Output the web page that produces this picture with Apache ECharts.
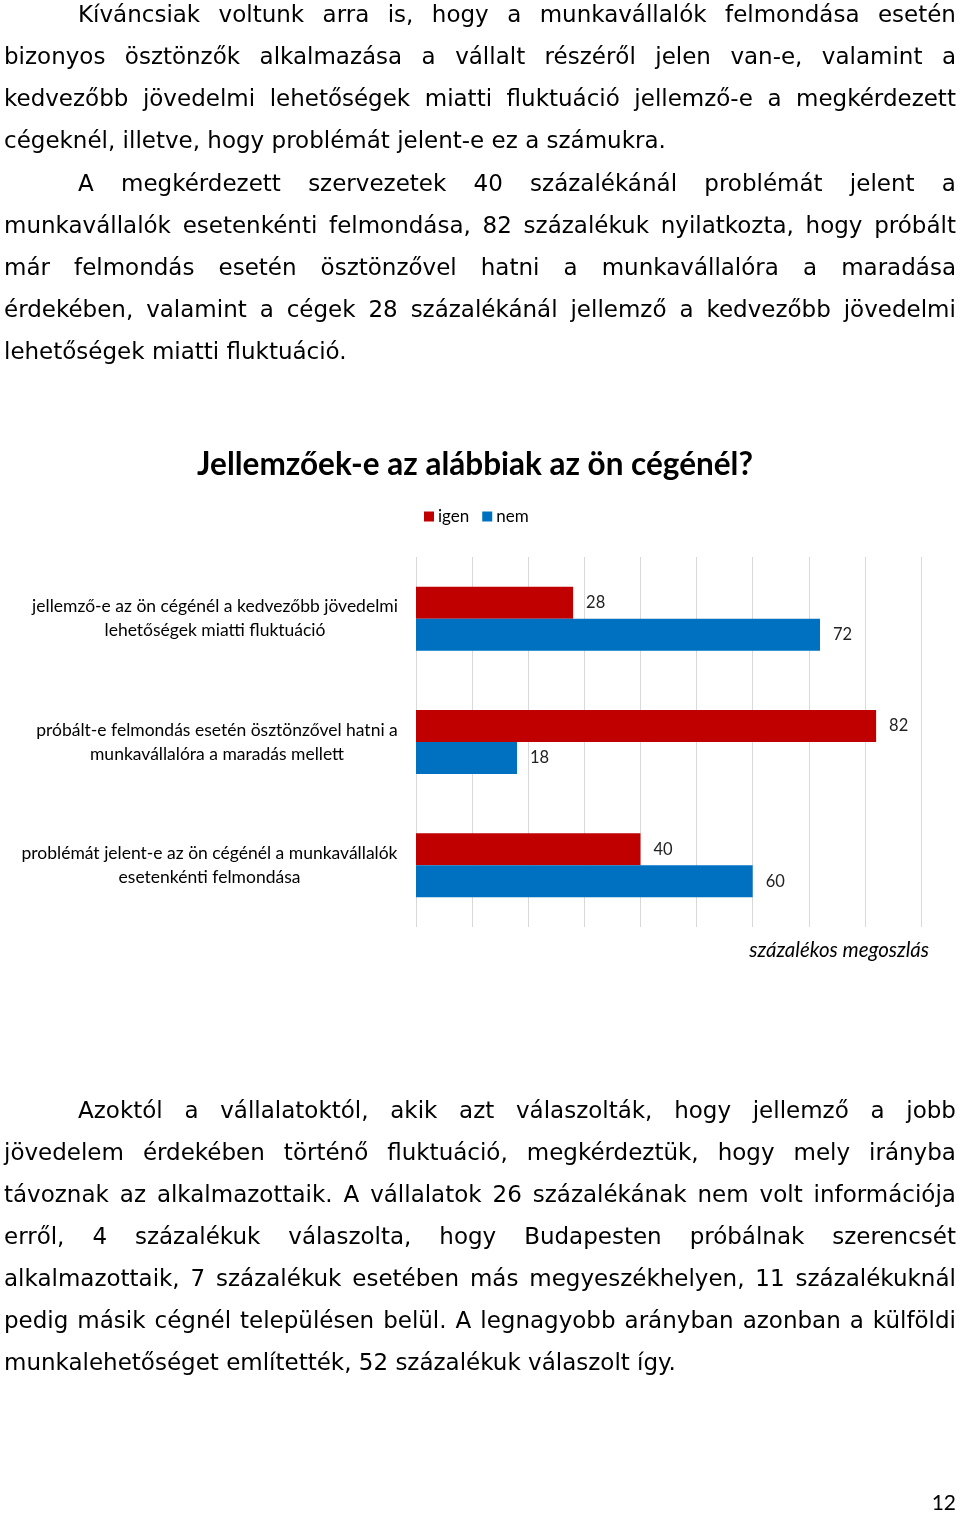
<!DOCTYPE html>
<html>
<head>
<meta charset="utf-8">
<script src="https://cdn.jsdelivr.net/npm/echarts@6/dist/echarts.min.js"></script>
<style>
  html, body { margin: 0; padding: 0; background: #fff; }
  #page { position: relative; width: 960px; height: 1513px; overflow: hidden; }
  #chart { position: absolute; left: 0; top: 0; width: 960px; height: 1513px; }
  .para { position: absolute; left: 4px; width: 952px; font-family: "DejaVu Sans", Verdana, sans-serif; font-size: 23px; line-height: 42px; color: #000; }
  .line { display: flex; justify-content: space-between; white-space: nowrap; height: 42px; transform-origin: left center; }
  .line.last { justify-content: flex-start; }
  .line.last span { margin-right: 0.318em; }
  .line.indent { padding-left: 74px; }
  #pnum { position: absolute; right: 4px; top: 1489px; font-family: Lato, "Open Sans", sans-serif; font-size: 21px; color: #000; }
</style>
</head>
<body>
<div id="page">
  <div id="chart"></div>
  <div class="para" id="p1" style="top:-7px"></div>
  <div class="para" id="p2" style="top:162px"></div>
  <div class="para" id="p3" style="top:1089px"></div>
  <div id="pnum">12</div>
</div>
<script>
// ---- text content ----
const para1 = [
  "Kíváncsiak voltunk arra is, hogy a munkavállalók felmondása esetén",
  "bizonyos ösztönzők alkalmazása a vállalt részéről jelen van-e, valamint a",
  "kedvezőbb jövedelmi lehetőségek miatti fluktuáció jellemző-e a megkérdezett",
  "cégeknél, illetve, hogy problémát jelent-e ez a számukra."
];
const para2 = [
  "A megkérdezett szervezetek 40 százalékánál problémát jelent a",
  "munkavállalók esetenkénti felmondása, 82 százalékuk nyilatkozta, hogy próbált",
  "már felmondás esetén ösztönzővel hatni a munkavállalóra a maradása",
  "érdekében, valamint a cégek 28 százalékánál jellemző a kedvezőbb jövedelmi",
  "lehetőségek miatti fluktuáció."
];
const para3 = [
  "Azoktól a vállalatoktól, akik azt válaszolták, hogy jellemző a jobb",
  "jövedelem érdekében történő fluktuáció, megkérdeztük, hogy mely irányba",
  "távoznak az alkalmazottaik. A vállalatok 26 százalékának nem volt információja",
  "erről, 4 százalékuk válaszolta, hogy Budapesten próbálnak szerencsét",
  "alkalmazottaik, 7 százalékuk esetében más megyeszékhelyen, 11 százalékuknál",
  "pedig másik cégnél településen belül. A legnagyobb arányban azonban a külföldi",
  "munkalehetőséget említették, 52 százalékuk válaszolt így."
];

// ---- chart data ----
const chartTitle = "Jellemzőek-e az alábbiak az ön cégénél?";
const categories = [
  "jellemző-e az ön cégénél a kedvezőbb jövedelmi\nlehetőségek miatti fluktuáció",
  "próbált-e felmondás esetén ösztönzővel hatni a\nmunkavállalóra a maradás mellett",
  "problémát jelent-e az ön cégénél a munkavállalók\nesetenkénti felmondása"
];
const seriesNames = ["igen", "nem"];
const igenValues = [28, 82, 40];
const nemValues = [72, 18, 60];
const axisName = "százalékos megoszlás";
const axisMin = 0, axisMax = 90, axisStep = 10;

function buildPara(id, lines) {
  const el = document.getElementById(id);
  lines.forEach((txt, i) => {
    const d = document.createElement('div');
    d.className = 'line' + (i === 0 ? ' indent' : '') + (i === lines.length - 1 ? ' last' : '');
    txt.split(' ').forEach(w => {
      const s = document.createElement('span');
      s.textContent = w;
      d.appendChild(s);
    });
    el.appendChild(d);
  });
}
buildPara('p1', para1);
buildPara('p2', para2);
buildPara('p3', para3);

document.querySelectorAll('.line').forEach(d => {
  if (d.scrollWidth > d.clientWidth + 1) {
    d.style.transform = 'scaleX(' + (d.clientWidth / d.scrollWidth) + ')';
  }
});

// measure label widths for centred multi-line labels
const labelSize = 17.5;
const cvs = document.createElement('canvas');
const ctx = cvs.getContext('2d');
ctx.font = labelSize + 'px Lato';
const rich = {};
categories.forEach((c, i) => {
  const w = Math.max(...c.split('\n').map(l => ctx.measureText(l).width));
  rich['c' + i] = { width: Math.ceil(w), align: 'center', fontFamily: 'Lato', fontSize: labelSize, lineHeight: 24, color: '#000' };
});

const chart = echarts.init(document.getElementById('chart'), null, { renderer: 'canvas' });
chart.setOption({
  animation: false,
  backgroundColor: 'transparent',
  title: {
    text: chartTitle,
    left: 470, top: 444,
    textAlign: 'center',
    textStyle: { fontFamily: 'Lato', fontWeight: 'bold', fontSize: 31.5, color: '#000' }
  },
  legend: {
    data: seriesNames,
    left: 419, top: 503,
    itemWidth: 10, itemHeight: 10, itemGap: 13,
    icon: 'rect',
    textStyle: { fontFamily: 'Lato', fontSize: 17, color: '#000', padding: [0, 0, 0, -1] }
  },
  grid: { left: 416, right: 39, top: 557, height: 370, containLabel: false },
  xAxis: {
    type: 'value', min: axisMin, max: axisMax, interval: axisStep,
    axisLabel: { show: false },
    axisLine: { show: false },
    axisTick: { show: false },
    splitLine: { show: true, lineStyle: { color: '#d9d9d9', width: 1 } }
  },
  yAxis: {
    type: 'category', data: categories, inverse: true,
    axisLine: { show: false }, axisTick: { show: false },
    axisLabel: {
      margin: 18,
      formatter: (v, idx) => v.split('\n').map(l => '{c' + idx + '|' + l + '}').join('\n'),
      rich: rich
    }
  },
  graphic: [{
    type: 'text', right: 31, top: 940,
    style: { text: axisName, font: 'italic 20.5px Lato', fill: '#000', textAlign: 'right' }
  }],
  series: [
    {
      name: seriesNames[0], type: 'bar', data: igenValues, barWidth: 32, barGap: '0%',
      itemStyle: { color: '#C00000' },
      label: { show: true, position: 'right', distance: 13, fontFamily: 'Lato', fontSize: 16.5, color: '#222' }
    },
    {
      name: seriesNames[1], type: 'bar', data: nemValues, barWidth: 32, barGap: '0%',
      itemStyle: { color: '#0070C0' },
      label: { show: true, position: 'right', distance: 13, fontFamily: 'Lato', fontSize: 16.5, color: '#222' }
    }
  ]
});
</script>
</body>
</html>
